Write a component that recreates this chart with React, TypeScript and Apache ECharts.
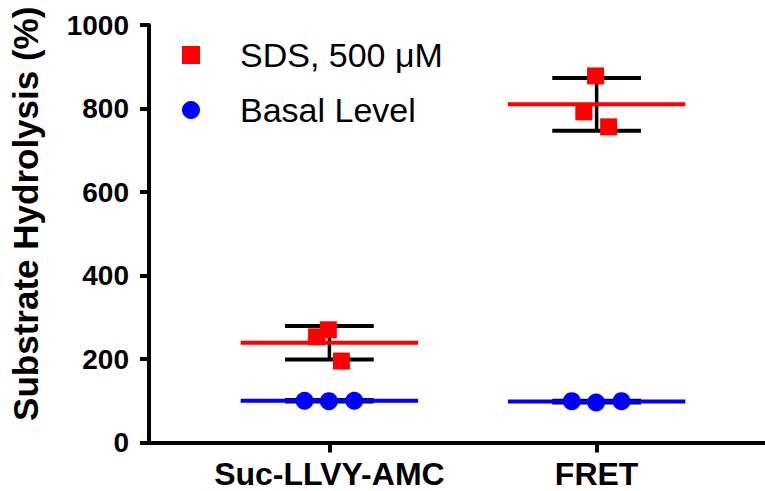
import React, { useEffect, useRef } from "react";
import * as echarts from "echarts";

const categories = ["Suc-LLVY-AMC", "FRET"];
const categoryPositions = [1, 2];

// SDS, 500 μM replicates (per category) and their horizontal jitter (category units)
const sdsValues = [
  [253, 270, 195],
  [792, 878, 756],
];
const sdsJitter = [-0.048, -0.004, 0.045];
const sdsMean = [239, 810];
const sdsSD = [40, 63];

// Basal level replicates
const basalValues = [
  [100, 99, 100],
  [99, 96, 99],
];
const basalJitter = [-0.093, -0.002, 0.093];
const basalMean = [100, 98];
const basalSD = [2, 2];

const yTicks = [0, 200, 400, 600, 800, 1000];

const FONT = "'Liberation Sans', Arial, Helvetica, sans-serif";
const SDS_NAME = "SDS, 500 μM";
const BASAL_NAME = "Basal Level";

export default function App() {
  const ref = useRef<HTMLDivElement>(null);

  useEffect(() => {
    document.body.style.margin = "0";
    const chart = echarts.init(ref.current!, null, { renderer: "svg" });

    const points = (vals: number[][], jit: number[]) =>
      vals.flatMap((arr, ci) => arr.map((v, i) => [categoryPositions[ci] + jit[i], v]));

    const meanLine = (means: number[], color: string) => ({
      type: "custom",
      z: 3,
      silent: true,
      data: means.map((m, i) => [categoryPositions[i], m]),
      renderItem: (params: any, api: any) => {
        const x = api.value(0);
        const m = api.value(1);
        const a = api.coord([x - 0.332, m]);
        const b = api.coord([x + 0.332, m]);
        return {
          type: "line",
          shape: { x1: a[0], y1: a[1], x2: b[0], y2: b[1] },
          style: { stroke: color, lineWidth: 4 },
        };
      },
    });

    const errorBars = (means: number[], sds: number[]) => ({
      type: "custom",
      z: 2,
      silent: true,
      data: means.map((m, i) => [categoryPositions[i], m, sds[i]]),
      renderItem: (params: any, api: any) => {
        const x = api.value(0);
        const m = api.value(1);
        const s = api.value(2);
        const top = api.coord([x, m + s]);
        const bot = api.coord([x, m - s]);
        const tl = api.coord([x - 0.166, m + s]);
        const tr = api.coord([x + 0.166, m + s]);
        const bl = api.coord([x - 0.166, m - s]);
        const br = api.coord([x + 0.166, m - s]);
        const st = { stroke: "#000", lineWidth: 4 };
        return {
          type: "group",
          children: [
            { type: "line", shape: { x1: top[0], y1: top[1], x2: bot[0], y2: bot[1] }, style: { stroke: "#000", lineWidth: 3.5 } },
            { type: "line", shape: { x1: tl[0], y1: tl[1], x2: tr[0], y2: tr[1] }, style: st },
            { type: "line", shape: { x1: bl[0], y1: bl[1], x2: br[0], y2: br[1] }, style: st },
          ],
        };
      },
    });

    chart.setOption({
      animation: false,
      textStyle: { fontFamily: FONT },
      grid: { left: 148, right: 0, top: 25, bottom: 48.5, containLabel: false },
      legend: {
        orient: "vertical",
        left: 182,
        top: 38,
        padding: 0,
        itemWidth: 18,
        itemHeight: 18,
        itemGap: 21,
        textStyle: { fontSize: 34, color: "#000", fontFamily: FONT, padding: [0, 0, 0, 35] },
        data: [
          { name: SDS_NAME, icon: "rect", itemStyle: { color: "#ff0000", opacity: 1 } },
          { name: BASAL_NAME, icon: "circle", itemStyle: { color: "#0000ff", opacity: 1 } },
        ],
      },
      xAxis: {
        type: "value",
        min: 0.325,
        max: 2.63,
        splitLine: { show: false },
        axisLine: { show: true, lineStyle: { color: "#000", width: 4 } },
        axisTick: { show: true, customValues: categoryPositions, length: 10, lineStyle: { color: "#000", width: 4 } },
        axisLabel: {
          customValues: categoryPositions,
          formatter: (v: number) => categories[Math.round(v) - 1] ?? "",
          fontSize: 32,
          fontWeight: "bold",
          color: "#000",
          fontFamily: FONT,
          margin: 15,
        },
      },
      yAxis: {
        type: "value",
        min: yTicks[0],
        max: yTicks[yTicks.length - 1],
        interval: 200,
        name: "Substrate Hydrolysis (%)",
        nameLocation: "middle",
        nameRotate: 90,
        nameGap: 106,
        nameTextStyle: {
          fontSize: 35,
          fontWeight: "bold",
          color: "#000",
          fontFamily: FONT,
          width: 600,
          overflow: "none",
          padding: [0, 0, 0, 40],
        },
        splitLine: { show: false },
        axisLine: { show: true, lineStyle: { color: "#000", width: 4 } },
        axisTick: { show: true, length: 9, lineStyle: { color: "#000", width: 4 } },
        axisLabel: {
          fontSize: 28,
          fontWeight: "bold",
          color: "#000",
          fontFamily: FONT,
          margin: 20,
          formatter: (v: number) => String(v),
        },
      },
      series: [
        errorBars(sdsMean, sdsSD),
        errorBars(basalMean, basalSD),
        meanLine(sdsMean, "#ff0000"),
        meanLine(basalMean, "#0000ff"),
        {
          name: SDS_NAME,
          type: "scatter",
          z: 5,
          symbol: "rect",
          symbolSize: 17,
          itemStyle: { color: "#ff0000", opacity: 1 },
          data: points(sdsValues, sdsJitter),
        },
        {
          name: BASAL_NAME,
          type: "scatter",
          z: 5,
          symbol: "circle",
          symbolSize: 18,
          itemStyle: { color: "#0000ff", opacity: 1 },
          data: points(basalValues, basalJitter),
        },
      ],
    });

    return () => chart.dispose();
  }, []);

  return <div ref={ref} style={{ width: 765, height: 491 }} />;
}
